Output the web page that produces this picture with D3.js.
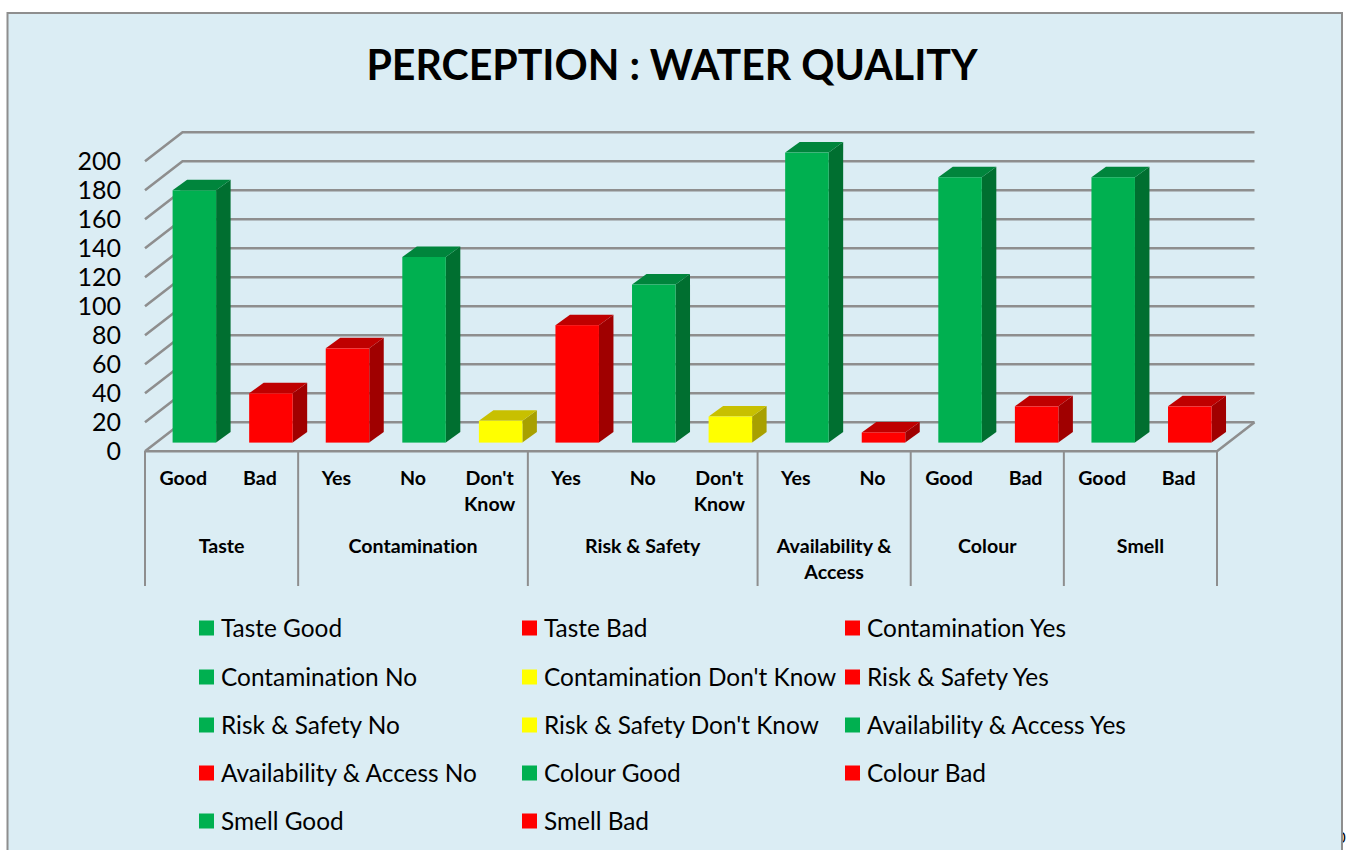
<!DOCTYPE html>
<html><head><meta charset="utf-8">
<script src="https://cdn.jsdelivr.net/npm/d3@7"></script>
<style>html,body{margin:0;padding:0;background:#fff;overflow:hidden}svg{display:block}text{font-family:Lato,"Open Sans",sans-serif;fill:#000;font-variant-ligatures:none}</style>
</head><body><svg id="c" width="1349" height="850"></svg>
<script>
const groups = ["Taste","Contamination","Risk & Safety","Availability & Access","Colour","Smell"];
const subLabels = ["Good","Bad","Yes","No","Don't Know","Yes","No","Don't Know","Yes","No","Good","Bad","Good","Bad"];
const groupOf = [0,0,1,1,1,2,2,2,3,3,4,4,5,5];
const values = [174,34,65,128,15,81,109,18,200,7,183,25,183,25];
const colorKey = ["g","r","r","g","y","r","g","y","g","r","g","r","g","r"];
const ticks = [0,20,40,60,80,100,120,140,160,180,200];
const legendNames = ["Taste Good","Taste Bad","Contamination Yes","Contamination No","Contamination Don't Know","Risk & Safety Yes","Risk & Safety No","Risk & Safety Don't Know","Availability & Access Yes","Availability & Access No","Colour Good","Colour Bad","Smell Good","Smell Bad"];
const palette = {g:{front:"#00B050",top:"#00853C",side:"#006F30"},r:{front:"#FF0000",top:"#BF0000",side:"#A00000"},y:{front:"#FFFF00",top:"#C8C000",side:"#A8A000"}};

const svg = d3.select("#c");
const gray = "#8E8E8E";
const L=145,R=1217,dx=37.5,dy=29;
const x = d3.scaleBand().domain(d3.range(values.length)).range([L,R]).paddingInner(0).paddingOuter(0);
const y = d3.scaleLinear().domain([0,200]).range([451.3,161.3]);

// stray digit peeking out from behind the right edge of the panel, as in the source
svg.append("text").attr("x",1337).attr("y",843).attr("font-size",15).text("0");
svg.append("rect").attr("x",7.5).attr("y",13).attr("width",1334.5).attr("height",860).attr("fill","#DBEDF4").attr("stroke",gray).attr("stroke-width",2);
svg.append("text").attr("x",672).attr("y",79.5).attr("text-anchor","middle").attr("font-size",41.1).attr("font-weight",700).text("PERCEPTION : WATER QUALITY");

// wall / floor grid
const grid = svg.append("g").attr("fill","none").attr("stroke",gray).attr("stroke-width",2.6);
ticks.forEach(t=>{
  grid.append("path").attr("d",d3.line()([[L,y(t)],[L+dx,y(t)-dy],[R+dx,y(t)-dy]]));
});
grid.append("path").attr("d",d3.line()([[L,y(0)],[R,y(0)],[R+dx,y(0)-dy]]));

// y tick labels
const yAxis = d3.axisLeft(y).tickValues(ticks).tickSize(0).tickPadding(0);
const ax = svg.append("g").attr("transform","translate(121,0)").call(yAxis);
ax.select(".domain").remove();
ax.selectAll("text").attr("font-size",25).attr("font-family","Lato").attr("dy","0.34em").attr("fill","#000");

// bars
const bw=43.5, bx=27.6, bd=14.5, bh=10.5, base=8.7;
const bars = svg.append("g").selectAll("g").data(values).join("g");
bars.each(function(v,i){
  const g=d3.select(this), c=palette[colorKey[i]];
  const x0=x(i)+bx, x1=x0+bw, yb=y(0)-base, yt=y(v)-base;
  g.append("path").attr("fill",c.side).attr("d",d3.line()([[x1,yt],[x1+bd,yt-bh],[x1+bd,yb-bh],[x1,yb]])+"Z");
  g.append("path").attr("fill",c.top).attr("d",d3.line()([[x0,yt],[x0+bd,yt-bh],[x1+bd,yt-bh],[x1,yt]])+"Z");
  g.append("rect").attr("x",x0).attr("y",yt).attr("width",bw).attr("height",yb-yt).attr("fill",c.front);
});

// category axis
const sep = svg.append("g").attr("stroke",gray).attr("stroke-width",2);
const starts = d3.range(groups.length).map(k=>groupOf.indexOf(k));
const edges = starts.map(i=>x(i)).concat([R]);
edges.forEach(e=>sep.append("line").attr("x1",e).attr("x2",e).attr("y1",451).attr("y2",586));

function multi(parent,cx,lines,y0,size){
  lines.forEach((s,k)=>parent.append("text").attr("x",cx).attr("y",y0+k*26).attr("text-anchor","middle").attr("font-size",size).attr("font-weight",700).text(s));
}
const lab = svg.append("g");
subLabels.forEach((s,i)=>{
  const parts = s==="Don't Know"?["Don't","Know"]:[s];
  multi(lab,x(i)+x.bandwidth()/2,parts,485,19.6);
});
groups.forEach((s,k)=>{
  const parts = s==="Availability & Access"?["Availability &","Access"]:[s];
  const cx=(edges[k]+edges[k+1])/2;
  multi(lab,cx,parts,553,19.6);
});

// legend
const colX=[199,522,845], rowY=[628,677,725,773,821];
const leg=svg.append("g");
legendNames.forEach((n,i)=>{
  const cx=colX[i%3], cy=rowY[Math.floor(i/3)];
  leg.append("rect").attr("x",cx).attr("y",cy-7.5).attr("width",15).attr("height",15).attr("fill",palette[colorKey[i]].front);
  leg.append("text").attr("x",cx+22).attr("y",cy+8.6).attr("font-size",24.4).text(n);
});
</script></body></html>
